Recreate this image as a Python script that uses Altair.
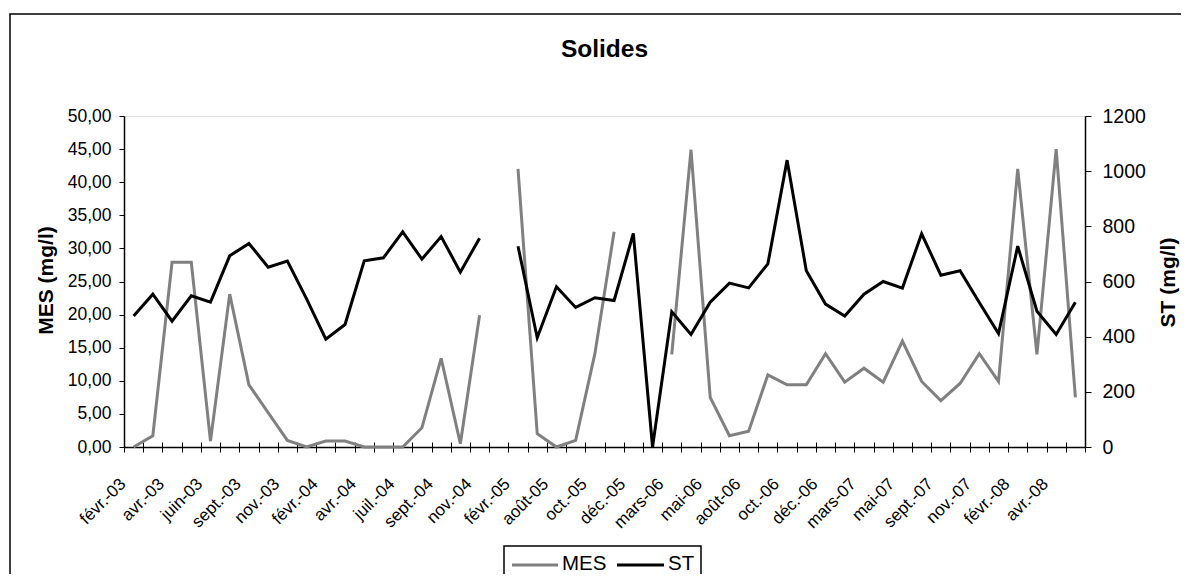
import json
import altair as alt
import pandas as pd

categories = [
    "févr.-03", "mars-03", "avr.-03", "mai-03", "juin-03", "juil.-03",
    "sept.-03", "oct.-03", "nov.-03", "déc.-03", "févr.-04", "mars-04",
    "avr.-04", "mai-04", "juil.-04", "août-04", "sept.-04", "oct.-04",
    "nov.-04", "déc.-04", "févr.-05", "juil.-05", "août-05", "sept.-05",
    "oct.-05", "nov.-05", "déc.-05", "janv.-06", "mars-06", "avr.-06",
    "mai-06", "juin-06", "août-06", "sept.-06", "oct.-06", "nov.-06",
    "déc.-06", "janv.-07", "mars-07", "avr.-07", "mai-07", "juin-07",
    "sept.-07", "oct.-07", "nov.-07", "déc.-07", "févr.-08", "mars-08",
    "avr.-08", "mai-08",
]

mes = [
    0.0, 1.7, 27.9, 27.9, 0.9, 23.1, 9.4, 5.2, 1.0, 0.0,
    0.9, 0.9, 0.0, 0.0, 0.0, 2.9, 13.4, 0.5, 19.9, None,
    42.0, 2.0, 0.0, 1.0, 14.1, 32.5, None, None, 14.0, 44.9,
    7.5, 1.7, 2.4, 10.9, 9.4, 9.4, 14.1, 9.8, 11.9, 9.8,
    16.0, 9.9, 7.0, 9.6, 14.1, 9.9, 42.0, 14.0, 45.0, 7.5,
]

st = [
    475, 554, 456, 548, 525, 693, 738, 652, 674, 537,
    391, 444, 675, 686, 780, 681, 763, 634, 757, None,
    728, 396, 581, 506, 541, 531, 774, 0, 490, 408,
    525, 594, 577, 664, 1040, 639, 518, 475, 554, 600,
    576, 773, 623, 639, 524, 411, 728, 492, 408, 525,
]

series_names = ["MES", "ST"]
series_colors = ["#808080", "#000000"]
shown_labels = categories[::2]
mes_ticks = [0, 5, 10, 15, 20, 25, 30, 35, 40, 45, 50]
st_ticks = [0, 200, 400, 600, 800, 1000, 1200]


def long_rows(name, values):
    rows, seg = [], 0
    for cat, v in zip(categories, values):
        if v is None:
            seg += 1
            continue
        rows.append({"cat": cat, "series": name, "value": v, "seg": f"{name}{seg}"})
    return pd.DataFrame(rows)


df_mes = long_rows("MES", mes)
df_st = long_rows("ST", st)

FONT = "Liberation Sans"
label_expr = (
    "indexof(" + json.dumps(shown_labels, ensure_ascii=False)
    + ", datum.value) >= 0 ? datum.label : ''"
)

color = alt.Color(
    "series:N",
    scale=alt.Scale(domain=series_names, range=series_colors),
    legend=None,
)

x_enc = alt.X(
    "cat:N",
    sort=categories,
    scale=alt.Scale(type="band", domain=categories, paddingInner=0, paddingOuter=0),
    axis=alt.Axis(
        title=None,
        orient="bottom",
        labelAngle=315,
        labelAlign="right",
        labelBaseline="middle",
        labelExpr=label_expr,
        labelOverlap=False,
        labelBound=False,
        labelFontSize=17,
        labelFont=FONT,
        labelColor="black",
        labelOffset=-11,
        labelPadding=29,
        tickBand="extent",
        tickSize=5,
        tickColor="black",
        domainColor="black",
        domainWidth=1.5,
        grid=False,
    ),
)

# inner half of the crossing category ticks
x_inner = alt.X(
    "cat:N",
    sort=categories,
    axis=alt.Axis(
        title=None,
        orient="bottom",
        offset=-5,
        labels=False,
        domain=False,
        tickBand="extent",
        tickSize=5,
        tickColor="black",
        grid=False,
    ),
)

mes_line = alt.Chart(df_mes).mark_line(strokeWidth=3, strokeJoin="miter").encode(
    x=x_enc,
    y=alt.Y(
        "value:Q",
        scale=alt.Scale(domain=[0, 50], nice=False),
        axis=alt.Axis(
            orient="left",
            values=mes_ticks,
            labelExpr="replace(format(datum.value, '.2f'), '.', ',')",
            labelFontSize=17.5,
            labelFont=FONT,
            labelColor="black",
            labelPadding=8,
            tickSize=5,
            tickColor="black",
            domainColor="black",
            domainWidth=1.5,
            grid=False,
            title="MES (mg/l)",
            titleFont=FONT,
            titleFontSize=21,
            titleFontWeight="bold",
            titleColor="black",
            titleAngle=270,
            titleAlign="center",
            titleBaseline="middle",
            titleX=-78,
            titleY=164,
        ),
    ),
    color=color,
    detail="seg:N",
)

st_line = alt.Chart(df_st).mark_line(strokeWidth=3, strokeJoin="miter").encode(
    x=x_inner,
    y=alt.Y(
        "value:Q",
        scale=alt.Scale(domain=[0, 1200], nice=False),
        axis=alt.Axis(
            orient="right",
            values=st_ticks,
            format="d",
            labelFontSize=19.5,
            labelFont=FONT,
            labelColor="black",
            labelPadding=11,
            tickSize=6,
            tickColor="black",
            domainColor="black",
            domainWidth=1.5,
            grid=False,
            title="ST (mg/l)",
            titleFont=FONT,
            titleFontSize=21,
            titleFontWeight="bold",
            titleColor="black",
            titleAngle=270,
            titleAlign="center",
            titleBaseline="middle",
            titleX=83,
            titleY=166,
        ),
    ),
    color=color,
    detail="seg:N",
)

# chart-area border (decoration)
frame = alt.Chart(pd.DataFrame({"k": [0]})).mark_rect(
    filled=False, stroke="black", strokeWidth=1.5
).encode(
    x=alt.value(-114), x2=alt.value(1100), y=alt.value(-102), y2=alt.value(480)
)

# legend drawn as a boxed row: line sample + label for each series
legend_df = pd.DataFrame({"series": series_names})
legend_box = alt.Chart(pd.DataFrame({"k": [0]})).mark_rect(
    filled=False, stroke="black", strokeWidth=1.5
).encode(x=alt.value(380), x2=alt.value(577), y=alt.value(430), y2=alt.value(490))

legend_parts = []
for name, x0, x1, tx in (("MES", 388, 434, 438), ("ST", 493, 540, 544)):
    sub = alt.Chart(legend_df).transform_filter(alt.datum.series == name)
    legend_parts.append(
        sub.mark_rule(strokeWidth=3).encode(
            x=alt.value(x0), x2=alt.value(x1), y=alt.value(449),
            color=color,
        )
    )
    legend_parts.append(
        sub.mark_text(
            align="left", baseline="middle", font=FONT, fontSize=20.5, color="black"
        ).encode(x=alt.value(tx), y=alt.value(448), text="series:N")
    )

chart = (
    alt.layer(frame, mes_line, st_line, legend_box, *legend_parts)
    .resolve_scale(y="independent")
    .resolve_axis(x="independent")
    .properties(
        width=961,
        height=331,
        title=alt.TitleParams(
            "Solides",
            font=FONT,
            fontSize=24.5,
            fontWeight="bold",
            color="black",
            anchor="middle",
            baseline="alphabetic",
            offset=0,
            dy=68,
        ),
        autosize=alt.AutoSizeParams(type="none"),
        padding={"left": 116, "top": 108, "right": 96, "bottom": 127},
    )
    .configure_view(stroke="#808080", strokeWidth=1.5)
    .configure(background="white")
)

chart.save("out.html", embed_options={"renderer": "svg", "actions": False})
